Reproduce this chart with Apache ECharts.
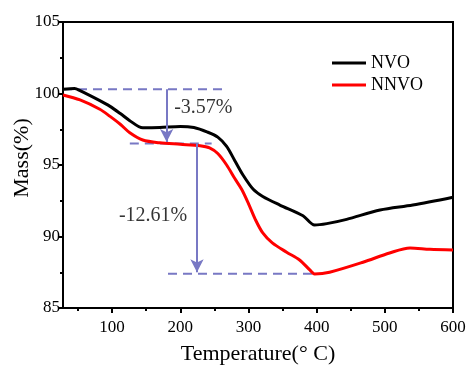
<!DOCTYPE html>
<html>
<head>
<meta charset="utf-8">
<script src="https://cdn.jsdelivr.net/npm/echarts@6/dist/echarts.min.js"></script>
<style>
  html, body { margin: 0; padding: 0; background: #fff; }
  #chart { width: 469px; height: 368px; }
</style>
</head>
<body>
<div id="chart"></div>
<script>
// TGA curves
const nvoTemp = [28, 45, 53, 82, 97, 112, 126, 145, 170, 200, 220, 240, 255, 268, 280, 292, 307, 321, 346, 380, 397, 415, 444, 493, 541, 600];
const nvoMass = [100.3, 100.35, 100.2, 99.5, 99.1, 98.6, 98.1, 97.6, 97.62, 97.7, 97.62, 97.3, 96.95, 96.3, 95.3, 94.3, 93.3, 92.8, 92.2, 91.45, 90.8, 90.9, 91.2, 91.85, 92.2, 92.75];

const nnvoTemp = [28, 53, 82, 97, 112, 126, 145, 170, 200, 229, 243, 255, 268, 280, 290, 300, 310, 321, 335, 356, 375, 390, 397, 419, 468, 507, 537, 566, 600];
const nnvoMass = [99.9, 99.55, 98.9, 98.4, 97.85, 97.25, 96.75, 96.55, 96.45, 96.35, 96.2, 95.8, 95.0, 94.05, 93.3, 92.3, 91.2, 90.25, 89.55, 88.9, 88.36, 87.66, 87.38, 87.5, 88.2, 88.85, 89.2, 89.1, 89.05];

const xMajorTicks = [100, 200, 300, 400, 500, 600];
const xMinorTicks = [50, 150, 250, 350, 450, 550];

// annotation guides
const dashTop = [[28, 100.3], [262, 100.3]];
const dashMid = [[126, 96.5], [246, 96.5]];
const dashLow = [[182, 87.4], [400, 87.4]];
const arrowOne = [[180, 100.3], [180, 96.6]];
const arrowTwo = [[224.5, 96.5], [224.5, 87.5]];
const lossLabels = [[191, 99.0, "-3.57%"], [110, 91.45, "-12.61%"]];

const serif = "Liberation Serif";
const guide = "#7878c4";

const pair = (xs, ys) => xs.map((x, i) => [x, ys[i]]);

const dashed = (data) => ({
  type: "line",
  data: data,
  symbol: "none",
  silent: true,
  lineStyle: { color: guide, width: 2, type: [9, 6] },
  z: 1,
});

const arrow = (pts) => ({
  type: "line",
  data: [],
  silent: true,
  markLine: {
    silent: true,
    symbol: ["none", "arrow"],
    symbolSize: [10, 13],
    label: { show: false },
    lineStyle: { color: guide, width: 2, type: "solid" },
    data: [[{ coord: pts[0] }, { coord: pts[1] }]],
  },
});

const chart = echarts.init(document.getElementById("chart"));

chart.setOption({
  animation: false,
  textStyle: { fontFamily: serif },
  grid: {
    left: 63,
    right: 16,
    top: 22,
    bottom: 60,
    outerBoundsMode: "none",
    show: true,
    borderColor: "#000",
    borderWidth: 2,
  },
  legend: {
    data: ["NVO", "NNVO"],
    left: 327,
    top: 49,
    orient: "vertical",
    itemWidth: 34,
    itemHeight: 3,
    itemGap: 4,
    icon: "rect",
    textStyle: { fontFamily: serif, fontSize: 18, color: "#000" },
  },
  xAxis: [
    {
      type: "value",
      min: 28,
      max: 600,
      name: "Temperature(° C)",
      nameLocation: "middle",
      nameGap: 35,
      nameTextStyle: { fontFamily: serif, fontSize: 22, color: "#000" },
      axisLine: { lineStyle: { color: "#000", width: 2 } },
      axisTick: { customValues: xMajorTicks, length: 5, lineStyle: { width: 2 } },
      axisLabel: { customValues: xMajorTicks, fontSize: 17, color: "#000", margin: 11 },
      splitLine: { show: false },
    },
    {
      type: "value",
      min: 28,
      max: 600,
      position: "bottom",
      axisLine: { show: false },
      axisTick: { customValues: xMinorTicks, length: 3, lineStyle: { color: "#000", width: 2 } },
      axisLabel: { show: false },
      splitLine: { show: false },
    },
  ],
  yAxis: {
    type: "value",
    min: 85,
    max: 105,
    interval: 5,
    name: "Mass(%)",
    nameLocation: "middle",
    nameRotate: 90,
    nameGap: 30,
    nameMoveOverlap: false,
    nameTextStyle: { fontFamily: serif, fontSize: 22, color: "#000", padding: [0, 0, 0, 14] },
    axisLine: { show: true, lineStyle: { color: "#000", width: 2 } },
    axisTick: { show: true, length: 5, lineStyle: { width: 2 } },
    minorTick: { show: true, splitNumber: 2, length: 3, lineStyle: { color: "#000", width: 2 } },
    axisLabel: { fontSize: 17, color: "#000", margin: 3 },
    splitLine: { show: false },
  },
  series: [
    dashed(dashTop),
    dashed(dashMid),
    dashed(dashLow),
    arrow(arrowOne),
    arrow(arrowTwo),
    {
      name: "NVO",
      type: "line",
      data: pair(nvoTemp, nvoMass),
      symbol: "none",
      smooth: 0.3,
      lineStyle: { color: "#000", width: 3 },
      itemStyle: { color: "#000" },
      z: 3,
    },
    {
      name: "NNVO",
      type: "line",
      data: pair(nnvoTemp, nnvoMass),
      symbol: "none",
      smooth: 0.3,
      lineStyle: { color: "#f00", width: 3 },
      itemStyle: { color: "#f00" },
      z: 3,
    },
    {
      type: "scatter",
      data: lossLabels,
      symbolSize: 0,
      silent: true,
      label: {
        show: true,
        position: "right",
        distance: 0,
        formatter: (p) => p.value[2],
        fontFamily: serif,
        fontSize: 20,
        color: "#000",
      },
    },
  ],
});
</script>
</body>
</html>
